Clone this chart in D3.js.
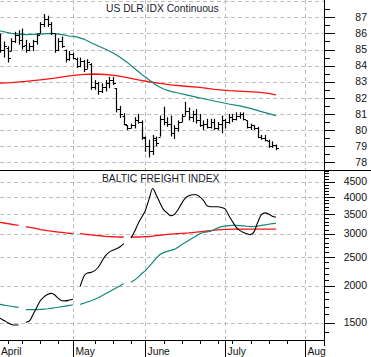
<!DOCTYPE html>
<html><head><meta charset="utf-8">
<script src="https://cdn.jsdelivr.net/npm/d3@7"></script>
<style>
html,body{margin:0;padding:0;background:#fff;}
svg{display:block;font-family:"Liberation Sans",Arial,sans-serif;}
</style></head><body><svg id="c" width="371" height="357"></svg>
<script>
// ---- Data (trading-day index; US Dollar Index bars start at day 1) ----
const firstBarDay = 1;
const usdOpen  = [85.6,85.0,85.1,84.9,85.5,85.9,85.6,85.3,85.0,85.2,85.5,86.0,86.6,86.9,86.6,86.0,85.0,85.5,85.0,84.4,84.7,84.4,84.0,84.3,83.8,84.1,82.7,82.9,82.4,82.7,82.9,83.1,82.6,81.3,80.9,80.3,80.1,80.3,80.6,80.5,79.5,79.0,78.7,79.4,79.6,80.7,80.5,80.4,79.8,80.1,80.5,80.9,81.2,80.8,81.0,80.6,80.3,80.4,80.2,80.5,80.1,80.4,80.6,80.5,80.8,80.7,80.9,81.0,80.6,80.2,80.3,80.1,79.6,79.5,79.3,79.0,79.1];
const usdHigh  = [86.0,85.5,85.2,85.7,86.1,86.2,86.3,85.6,85.4,85.6,86.0,86.7,87.2,87.1,86.7,86.0,85.7,85.8,85.0,84.9,84.8,84.5,84.5,84.35,84.4,84.15,83.1,83.0,82.9,83.1,83.3,83.3,82.6,81.5,81.05,80.3,80.4,80.8,81.0,80.6,79.6,79.4,79.7,79.6,80.9,81.45,80.8,80.9,80.3,80.6,81.0,81.75,81.4,81.2,81.3,81.0,80.6,80.7,80.7,80.7,80.5,80.9,80.7,81.0,81.0,81.1,81.1,81.1,80.6,80.4,80.3,80.2,79.7,79.7,79.4,79.3,79.1];
const usdLow   = [84.8,84.5,84.2,84.9,85.4,85.3,85.0,84.8,84.9,84.9,85.3,86.0,86.4,86.4,85.9,84.8,84.9,85.1,84.2,84.3,84.4,83.85,83.9,83.6,83.8,82.5,82.5,82.2,82.3,82.4,82.6,82.8,81.1,80.75,80.3,80.0,80.1,80.1,80.4,79.4,78.65,78.3,78.45,79.0,79.6,80.3,80.2,79.6,79.45,79.9,80.5,80.9,80.6,80.5,80.4,80.2,80.0,80.1,80.1,80.0,80.0,79.8,80.1,80.4,80.5,80.6,80.7,80.6,80.1,80.0,80.0,79.5,79.4,79.3,78.9,78.9,78.75];
const usdClose = [85.0,85.2,84.5,85.5,85.9,85.6,85.2,85.0,85.2,85.5,85.9,86.6,86.9,86.6,86.0,85.0,85.5,85.2,84.4,84.7,84.5,84.0,84.3,83.8,84.2,82.7,82.9,82.4,82.7,82.9,83.1,82.9,81.3,81.0,80.4,80.1,80.3,80.6,80.5,79.6,79.0,78.7,79.5,79.2,80.7,80.5,80.4,79.8,80.1,80.5,80.9,81.2,80.8,81.0,80.6,80.3,80.4,80.2,80.5,80.1,80.4,80.6,80.5,80.8,80.7,80.9,81.0,80.7,80.2,80.3,80.1,79.6,79.5,79.4,79.0,79.1,78.9];

const usdMaFastDays = [0,1,4,8,12,15,18,20,22,24,26,28,30,32,34,36,38,40,42,44,46,48,50,52,55,58,61,64,67,70,73,75,77];
const usdMaFast     = [86.2,86.15,86.0,85.92,85.95,86.0,85.92,85.84,85.78,85.65,85.42,85.22,85.02,84.8,84.52,84.2,83.82,83.45,83.12,82.78,82.55,82.4,82.3,82.2,82.05,81.9,81.76,81.62,81.5,81.35,81.15,81.02,80.9];
const usdMaSlowDays = [0,4,8,12,16,20,24,27,30,33,36,39,42,45,48,52,56,60,64,68,72,75,77];
const usdMaSlow     = [82.9,82.95,83.02,83.12,83.22,83.36,83.46,83.48,83.45,83.38,83.25,83.12,83.0,82.9,82.8,82.72,82.65,82.52,82.45,82.4,82.35,82.28,82.18];

// Baltic Freight Index, one value per trading day (day 0..77), null = no print
const bdi = [1570,1550,1525,1500,1480,1473,1473,null,1505,1520,1600,1690,1780,1835,1870,1885,1862,1810,1780,1778,1790,1800,null,1990,2150,2210,2220,2250,2310,2420,2530,2600,2640,2670,2710,2780,null,2900,3050,3250,3420,3600,3930,4270,4050,3820,3620,3530,3450,3490,3620,3800,3960,4030,4065,4065,4000,3890,3730,3700,3700,3700,3680,3640,3460,3300,3160,3080,3030,3000,2980,3050,3280,3480,3530,3500,3440,3410];
const bdiMaFast = [1740,1730,1720,1712,1705,1697,1690,null,1662,1660,1660,1662,1665,1668,1672,1678,1685,1692,1700,1708,1716,1722,null,1730,1745,1762,1780,1800,1822,1850,1880,1910,1940,1970,2000,2035,null,2055,2090,2140,2200,2250,2320,2400,2480,2550,2590,2615,2635,2655,2700,2760,2800,2850,2900,2950,3000,3030,3045,3060,3100,3140,3170,3185,3195,3200,3200,3195,3190,3180,3170,3175,3185,3200,3215,3230,3245,3250];
const bdiMaSlow = [3290,3280,3262,3245,3230,3215,3200,null,3170,3155,3140,3120,3100,3085,3072,3062,3050,3040,3030,3020,3012,3008,null,3002,2992,2982,2972,2964,2956,2948,2940,2934,2930,2927,2925,2925,null,2925,2925,2925,2926,2930,2935,2945,2955,2965,2975,2983,2990,2996,3002,3008,3014,3020,3028,3036,3045,3055,3065,3075,3085,3092,3098,3102,3105,3108,3110,3110,3110,3110,3110,3110,3110,3110,3110,3110,3110,3110];

// axis / label data
const monthLabels = ["April","May","June","July","Aug"];
const monthDays   = [0,21,41,63,85];
const weekDays    = [3,7,12,17,22,27,32,37,46,51,56,61,65,70,75,80];
const usdTicks    = [78,79,80,81,82,83,84,85,86,87];
const usdGrid     = [78,79,80,81,82,83,84,85,86,87,88];
const bdiTicks    = [1500,2000,2500,3000,3500,4000,4500];
const titleTop = "US DLR IDX Continuous";
const titleBottom = "BALTIC FREIGHT INDEX";

(function(){
// ---- Layout ----
const W = 371, H = 357, axisX = 324, split = 170, baseY = 340;
const svg = d3.select("#c");
const x = d3.scaleLinear().domain([0, 85]).range([-3.16, 304.9]);
const yTop = d3.scaleLinear().domain([87, 78]).range([17.3, 162.3]);
const yBot = d3.scaleLog().domain([1500, 4500]).range([322.7, 181.7]);
const TEAL = "#12877a", RED = "#ff1010", GRID = "#bdbdbd";

const defs = svg.append("defs");
defs.append("clipPath").attr("id","ct").append("rect").attr("x",0).attr("y",0).attr("width",axisX).attr("height",split);
defs.append("clipPath").attr("id","cb").append("rect").attr("x",0).attr("y",split).attr("width",axisX).attr("height",baseY-split);

// gridlines
const g = svg.append("g").attr("stroke", GRID).attr("stroke-width", 1).attr("stroke-dasharray", "4,3").attr("shape-rendering","crispEdges");
g.selectAll(".gt").data(usdGrid).join("line").attr("class","gt").attr("x1",0).attr("x2",axisX)
  .attr("y1",d=>Math.round(yTop(d))+0.5).attr("y2",d=>Math.round(yTop(d))+0.5);
g.selectAll(".gb").data(bdiTicks).join("line").attr("class","gb").attr("x1",0).attr("x2",axisX)
  .attr("y1",d=>Math.round(yBot(d))+0.5).attr("y2",d=>Math.round(yBot(d))+0.5);
g.selectAll(".gv").data(monthDays.slice(1)).join("line").attr("class","gv")
  .attr("x1",d=>Math.round(x(d))+0.5).attr("x2",d=>Math.round(x(d))+0.5).attr("y1",0).attr("y2",baseY);

// ---- Top panel ----
const topG = svg.append("g").attr("clip-path","url(#ct)");
const lineTopFast = d3.line().x((d,i)=>x(usdMaFastDays[i])).y(d=>yTop(d));
const lineTopSlow = d3.line().x((d,i)=>x(usdMaSlowDays[i])).y(d=>yTop(d));
topG.append("path").attr("d", lineTopSlow(usdMaSlow)).attr("fill","none").attr("stroke",RED).attr("stroke-width",1.3);
topG.append("path").attr("d", lineTopFast(usdMaFast)).attr("fill","none").attr("stroke",TEAL).attr("stroke-width",1.2);

const bars = topG.append("g").attr("stroke","#000").attr("stroke-width",1.2);
usdHigh.forEach((h,i)=>{
  const xc = Math.round(x(i+firstBarDay)) + 0.5;
  bars.append("line").attr("x1",xc).attr("x2",xc).attr("y1",yTop(h)).attr("y2",yTop(usdLow[i]));
  bars.append("line").attr("x1",xc-2).attr("x2",xc).attr("y1",Math.round(yTop(usdOpen[i]))+0.5).attr("y2",Math.round(yTop(usdOpen[i]))+0.5).attr("stroke-width",1);
  bars.append("line").attr("x1",xc).attr("x2",xc+2.5).attr("y1",Math.round(yTop(usdClose[i]))+0.5).attr("y2",Math.round(yTop(usdClose[i]))+0.5).attr("stroke-width",1);
});

// ---- Bottom panel ----
const botG = svg.append("g").attr("clip-path","url(#cb)");
const lb = d3.line().defined(d=>d!=null).x((d,i)=>x(i)).y(d=>yBot(d));
botG.append("path").attr("d", lb(bdiMaSlow)).attr("fill","none").attr("stroke",RED).attr("stroke-width",1.3);
botG.append("path").attr("d", lb(bdiMaFast)).attr("fill","none").attr("stroke",TEAL).attr("stroke-width",1.2);
botG.append("path").attr("d", lb.curve(d3.curveMonotoneX)(bdi)).attr("fill","none").attr("stroke","#000").attr("stroke-width",1.1);

// ---- Titles ----
svg.append("text").attr("x",106).attr("y",12).attr("font-size","10.3px").attr("fill","#1a1a2e").text(titleTop);
svg.append("text").attr("x",102).attr("y",182).attr("font-size","10.3px").attr("fill","#1a1a2e").text(titleBottom);

// ---- Frame lines ----
svg.append("line").attr("x1",0).attr("x2",W).attr("y1",split+0.5).attr("y2",split+0.5).attr("stroke","#000").attr("stroke-width",1.2);
svg.append("line").attr("x1",axisX+0.5).attr("x2",axisX+0.5).attr("y1",0).attr("y2",346).attr("stroke","#000").attr("stroke-width",1);
svg.append("line").attr("x1",0).attr("x2",axisX+1).attr("y1",baseY+0.5).attr("y2",baseY+0.5).attr("stroke","#000").attr("stroke-width",1);

// ---- Right axes ----
function axisTicks(scale, vals, size){
  const ax = d3.axisRight(scale).tickValues(vals).tickSize(size).tickFormat(()=> "");
  const gg = svg.append("g").attr("transform",`translate(${axisX+0.5},0)`).call(ax);
  gg.select(".domain").remove();
  gg.selectAll("line").attr("stroke","#000").attr("shape-rendering","crispEdges");
  return gg;
}
axisTicks(yTop, usdTicks, 10);
axisTicks(yTop, d3.range(77.5, 88, 1), 5);
axisTicks(yBot, bdiTicks, 10);
axisTicks(yBot, d3.range(1400, 4901, 100).filter(v=>v%500!==0), 4);

svg.append("g").selectAll("text").data(usdTicks).join("text")
  .attr("x",367).attr("y",d=>yTop(d)+3.7).attr("text-anchor","end").attr("font-size","10.5px").attr("fill","#111").text(d=>d);
svg.append("g").selectAll("text").data(bdiTicks).join("text")
  .attr("x",367).attr("y",d=>yBot(d)+3.7).attr("text-anchor","end").attr("font-size","10.5px").attr("fill","#111").text(d=>d);

// ---- Bottom time axis ----
const ta = svg.append("g").attr("stroke","#000").attr("shape-rendering","crispEdges");
const monthX = monthDays.map(d=>Math.round(x(d))+0.5);
ta.selectAll(".mt").data(monthX.slice(1)).join("line").attr("class","mt").attr("x1",d=>d).attr("x2",d=>d).attr("y1",baseY).attr("y2",H);
const wk = weekDays.map(d=>Math.round(x(d))+0.5).filter(px=>monthX.every(m=>Math.abs(m-px)>5));
ta.selectAll(".wt").data(wk).join("line").attr("class","wt").attr("x1",d=>d).attr("x2",d=>d).attr("y1",baseY).attr("y2",baseY+4);
svg.append("g").selectAll("text").data(monthLabels).join("text")
  .attr("x",(d,i)=>Math.max(1, monthX[i]+2)).attr("y",354.5).attr("font-size","10.3px").attr("fill","#111").text(d=>d);
})();
</script></body></html>
